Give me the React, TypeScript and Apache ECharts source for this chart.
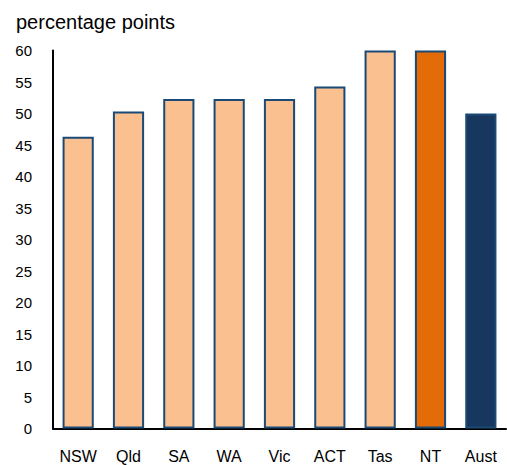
import React, { useEffect, useRef } from "react";
import * as echarts from "echarts";

const categories = ["NSW", "Qld", "SA", "WA", "Vic", "ACT", "Tas", "NT", "Aust"];
const values = [46.3, 50.3, 52.3, 52.3, 52.3, 54.3, 60, 60, 50];
const fills = ["#FAC090", "#FAC090", "#FAC090", "#FAC090", "#FAC090", "#FAC090", "#FAC090", "#E36C09", "#17375E"];
const yTitle = "percentage points";

export default function App() {
  const ref = useRef<HTMLDivElement>(null);
  useEffect(() => {
    document.body.style.margin = "0";
    const chart = echarts.init(ref.current!, undefined, { renderer: "svg" });
    chart.setOption({
      animation: false,
      backgroundColor: "#ffffff",
      textStyle: { fontFamily: "Liberation Sans, Arial, sans-serif" },
      graphic: [
        {
          type: "text",
          left: 16,
          top: 12,
          style: { text: yTitle, fontSize: 20, fill: "#000", fontFamily: "Liberation Sans, Arial, sans-serif" },
        },
      ],
      grid: { left: 53, right: 1, top: 50.5, bottom: 36.5 },
      xAxis: {
        type: "category",
        data: categories,
        axisLine: { lineStyle: { color: "#000", width: 2 } },
        axisTick: { show: false },
        axisLabel: { color: "#000", fontSize: 16, margin: 20 },
      },
      yAxis: {
        type: "value",
        min: 0,
        max: 60,
        interval: 5,
        splitLine: { show: false },
        axisLine: { show: true, lineStyle: { color: "#000", width: 2 } },
        axisTick: { show: false },
        axisLabel: { color: "#000", fontSize: 15, margin: 21 },
      },
      series: [
        {
          type: "bar",
          barWidth: "62%",
          data: values.map((v, i) => ({
            value: v,
            itemStyle: { color: fills[i], borderColor: "#1A4A75", borderWidth: 2 },
          })),
        },
      ],
    });
    return () => chart.dispose();
  }, []);
  return <div ref={ref} style={{ width: 507, height: 465 }} />;
}
